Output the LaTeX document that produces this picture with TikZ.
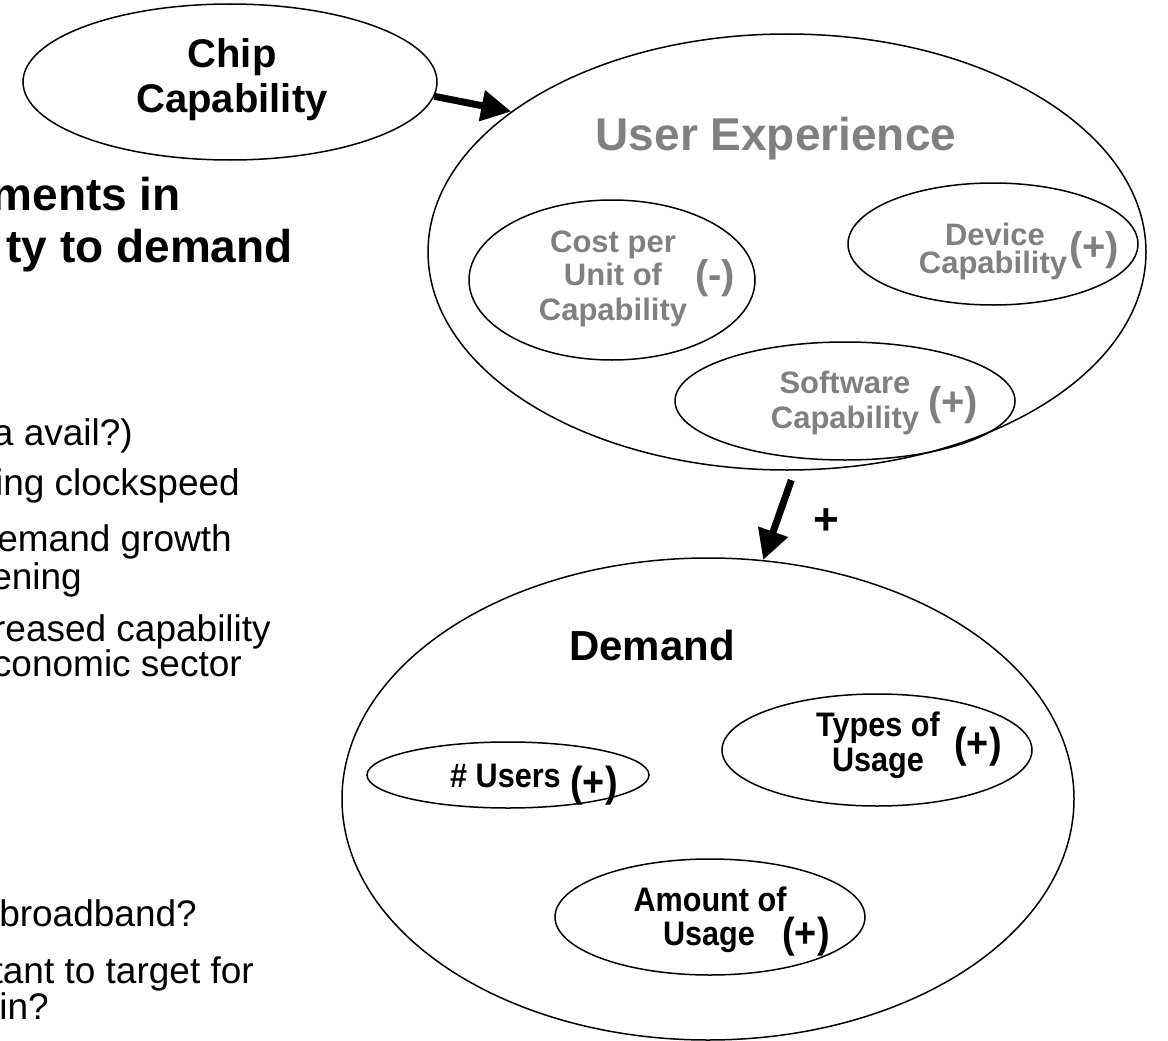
\documentclass[tikz,border=0pt]{standalone}
\usepackage{fontspec}
\setmainfont{Liberation Sans}
\newfontfamily\narrowfam[FakeStretch=0.9]{Liberation Sans}
\usetikzlibrary{arrows.meta,shapes.geometric}
\definecolor{softgray}{HTML}{808080}
\newcommand\fsz[1]{\fontsize{#1}{#1}\selectfont}

\begin{document}
\begin{tikzpicture}[x=1pt,y=-1pt,
  oval/.style={draw, ellipse, line width=1.5pt, inner sep=0pt},
  txt/.style={inner sep=0pt, anchor=base},
  graybf/.style={txt, text=softgray, font=\fsz{31}\bfseries},
  graysign/.style={inner sep=0pt, anchor=center, text=softgray, font=\fsz{40}\bfseries},
  narrowbf/.style={txt, font=\narrowfam\fsz{34}\bfseries},
  narrowsign/.style={inner sep=0pt, anchor=center, font=\narrowfam\fsz{42}\bfseries},
  lefttxt/.style={inner sep=0pt, anchor=base east, font=\fsz{37}},
  headtxt/.style={inner sep=0pt, anchor=base east, font=\fsz{46}\bfseries},
  bigarrow/.style={line width=7pt, -{Triangle[length=30pt,width=30pt]}}
]
\useasboundingbox (0,0) rectangle (1168,1041);
\clip (0,0) rectangle (1168,1041);

% left-hand text column
\node[headtxt] (h1) at (181,210) {ments in};
\node[headtxt] (h2) at (293,262) {ty to demand};
\node[lefttxt] (l1) at (133,445) {a avail?)};
\node[lefttxt] (l2) at (240,495) {ing clockspeed};
\node[lefttxt] (l3) at (232,551) {emand growth};
\node[lefttxt] (l4) at (82,589) {ening};
\node[lefttxt] (l5) at (271,641) {reased capability};
\node[lefttxt] (l6) at (242,676) {conomic sector};
\node[lefttxt] (l7) at (197,926) {broadband?};
\node[lefttxt] (l8) at (254,983) {tant to target for};
\node[lefttxt] (l9) at (49,1019) {in?};

% chip capability
\node[oval, minimum width=414pt, minimum height=156pt] (chip) at (230,82) {};
\node[txt, font=\fsz{40}\bfseries] (chipa) at (232,67) {Chip};
\node[txt, font=\fsz{40}\bfseries] (chipb) at (232,113) {Capability};

% user experience
\node[oval, minimum width=718pt, minimum height=436pt] (ue) at (787,252) {};
\node[txt, text=softgray, font=\fsz{46}\bfseries] (uet) at (776,150) {User Experience};

\node[oval, minimum width=286pt, minimum height=160pt] (cost) at (612,280) {};
\node[graybf] (costa) at (613,252) {Cost per};
\node[graybf] (costb) at (613,285) {Unit of};
\node[graybf] (costc) at (613,320) {Capability};
\node[graysign] (costs) at (715,278) {(-)};

\node[oval, minimum width=290pt, minimum height=122pt] (dev) at (993,244) {};
\node[graybf] (deva) at (995,245) {Device};
\node[graybf] (devb) at (993,273) {Capability};
\node[graysign] (devs) at (1094,250) {(+)};

\node[oval, minimum width=340pt, minimum height=118pt] (sw) at (845,401) {};
\node[graybf] (swa) at (845,393) {Software};
\node[graybf] (swb) at (845,428) {Capability};
\node[graysign] (sws) at (953,405) {(+)};

% demand
\node[oval, minimum width=732pt, minimum height=482pt] (dem) at (708,799) {};
\node[txt, font=\fsz{42}\bfseries] (demt) at (652,660) {Demand};

\node[oval, minimum width=282pt, minimum height=66pt] (users) at (508,775) {};
\node[narrowbf, anchor=base east] (usersa) at (561,787) {\# Users};
\node[narrowsign] (userss) at (594,786) {(+)};

\node[oval, minimum width=310pt, minimum height=112pt] (types) at (877,750) {};
\node[narrowbf] (typesa) at (878,736) {Types of};
\node[narrowbf] (typesb) at (878,771) {Usage};
\node[narrowsign] (typess) at (978,747) {(+)};

\node[oval, minimum width=310pt, minimum height=116pt] (amt) at (710,917) {};
\node[narrowbf] (amta) at (710,911) {Amount of};
\node[narrowbf] (amtb) at (709,945) {Usage};
\node[narrowsign] (amts) at (806,937) {(+)};

% influence arrows
\draw[bigarrow] (chip.-4.4) -- (ue.153.3);
\draw[bigarrow, shorten <=10pt] (ue.-88) -- (dem.77.4);
\node[inner sep=0pt, font=\fsz{44}\bfseries] (plus) at (826,522) {+};
\end{tikzpicture}
\end{document}
